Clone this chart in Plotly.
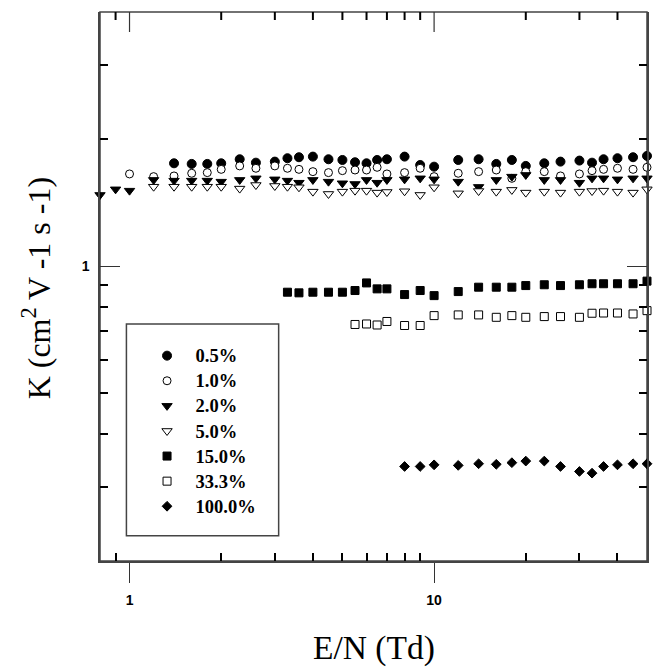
import math
import plotly.graph_objects as go

# E/N (Td) and mobility K (cm^2 V^-1 s^-1) for each mixture
en_05 = [1.4, 1.6, 1.8, 2.0, 2.3, 2.6, 3.0, 3.3, 3.6, 4.0, 4.5, 5.0, 5.5, 6.0, 6.5, 7.0,
         8, 9, 10, 12, 14, 16, 18, 20, 23, 26, 30, 33, 36, 40, 45, 50]
k_05 = [1.752, 1.746, 1.746, 1.752, 1.791, 1.758, 1.768, 1.801, 1.811, 1.817, 1.791, 1.784,
        1.762, 1.752, 1.784, 1.791, 1.817, 1.736, 1.720, 1.784, 1.791, 1.746, 1.784, 1.727,
        1.752, 1.768, 1.778, 1.758, 1.791, 1.801, 1.811, 1.824]

en_10 = [1.0, 1.2] + en_05
k_10 = [1.653, 1.629, 1.635, 1.659, 1.665, 1.695, 1.727, 1.705, 1.727, 1.705, 1.695, 1.674,
        1.665, 1.683, 1.689, 1.689, 1.714, 1.653, 1.665, 1.705, 1.629, 1.659, 1.674, 1.689,
        1.614, 1.674, 1.674, 1.635, 1.653, 1.683, 1.695, 1.705, 1.695, 1.714]

en_20 = [0.8, 0.9, 1.0, 1.2] + en_05
k_20 = [1.474, 1.520, 1.509, 1.600, 1.594, 1.594, 1.594, 1.585, 1.600, 1.614, 1.605, 1.594,
        1.576, 1.600, 1.585, 1.571, 1.565, 1.600, 1.576, 1.600, 1.605, 1.614, 1.605, 1.585,
        1.540, 1.600, 1.629, 1.644, 1.600, 1.600, 1.576, 1.614, 1.614, 1.605, 1.614, 1.614]

en_50 = [1.2] + en_05
k_50 = [1.542, 1.542, 1.542, 1.542, 1.542, 1.526, 1.556, 1.548, 1.542, 1.537, 1.501, 1.482,
        1.501, 1.509, 1.509, 1.493, 1.498, 1.504, 1.474, 1.537, 1.487, 1.506, 1.501, 1.515,
        1.493, 1.501, 1.493, 1.501, 1.506, 1.509, 1.501, 1.493, 1.520]

en_150 = [3.3, 3.6, 4.0, 4.5, 5.0, 5.5, 6.0, 6.5, 7.0, 8, 9, 10, 12, 14, 16, 18, 20, 23, 26,
          30, 33, 36, 40, 45, 50]
k_150 = [0.867, 0.864, 0.867, 0.867, 0.867, 0.875, 0.912, 0.883, 0.883, 0.856, 0.875, 0.851,
         0.870, 0.891, 0.891, 0.891, 0.899, 0.903, 0.899, 0.903, 0.908, 0.908, 0.908, 0.908,
         0.921]

en_333 = [5.5, 6.0, 6.5, 7.0, 8, 9, 10, 12, 14, 16, 18, 20, 23, 26, 30, 33, 36, 40, 45, 50]
k_333 = [0.727, 0.729, 0.725, 0.739, 0.723, 0.723, 0.763, 0.766, 0.766, 0.756, 0.763, 0.756,
         0.759, 0.759, 0.756, 0.773, 0.774, 0.774, 0.770, 0.784]

en_1000 = [8, 9, 10, 12, 14, 16, 18, 20, 23, 26, 30, 33, 36, 40, 45, 50]
k_1000 = [0.335, 0.335, 0.338, 0.337, 0.340, 0.339, 0.342, 0.345, 0.345, 0.335, 0.326, 0.323,
          0.335, 0.338, 0.340, 0.340]

labels = ["0.5%", "1.0%", "2.0%", "5.0%", "15.0%", "33.3%", "100.0%"]

x_range = [0.8, 50]
y_range = [0.2, 4.0]
x_major = [1, 10]
x_minor = [0.9, 2, 3, 4, 5, 6, 7, 8, 9, 20, 30, 40]
y_major = [1]
y_minor = [0.3, 0.4, 0.5, 0.6, 0.7, 0.8, 0.9, 2, 3]

series = [
    (en_05, k_05, "circle", 9, "black"),
    (en_10, k_10, "circle", 8, "white"),
    (en_20, k_20, "triangle-down", 9, "black"),
    (en_50, k_50, "triangle-down", 9, "white"),
    (en_150, k_150, "square", 8, "black"),
    (en_333, k_333, "square", 8, "white"),
    (en_1000, k_1000, "diamond", 7.5, "black"),
]

W, H = 656, 668
M = dict(l=100, r=7, t=12, b=107)
plot_h = H - M["t"] - M["b"]

lx = [math.log10(v) for v in x_range]
ly = [math.log10(v) for v in y_range]

axis_line = "#444444"
major_color = "#333333"

fig = go.Figure()

NBSP = "\u00a0"
for i, ((xs, ys, sym, size, fill), name) in enumerate(zip(series, labels)):
    fig.add_trace(go.Scatter(
        x=xs, y=ys, mode="markers",
        name=NBSP * 2 + f'<span style="font-size:18.5px">{name}</span>',
        legendgroup=f"g{i}",
        cliponaxis=False,
        marker=dict(symbol=sym, size=size, color=fill,
                    line=dict(color="black", width=1)),
    ))

# inward ticks hanging from the top edge, at the same E/N values as the bottom axis
for vals, length, width, color in ((x_major, 20, 1.2, major_color),
                                   (x_minor, 8, 2, "black")):
    y_end = 10 ** (ly[1] - length / plot_h * (ly[1] - ly[0]))
    tx, ty = [], []
    for v in vals:
        tx += [v, v, None]
        ty += [y_range[1], y_end, None]
    fig.add_trace(go.Scatter(x=tx, y=ty, mode="lines", showlegend=False,
                             hoverinfo="skip", line=dict(color=color, width=width)))

tick_font = dict(family="Liberation Sans", size=14, color="black", weight="bold")
minor_ticks = dict(tickmode="array", ticks="inside", ticklen=8, tickwidth=2,
                   tickcolor="black", showgrid=False)

fig.update_layout(
    width=W, height=H,
    margin=M,
    paper_bgcolor="white", plot_bgcolor="white",
    showlegend=True,
    legend=dict(
        x=0.086, y=0.406, xanchor="left", yanchor="top",
        bgcolor="rgba(0,0,0,0)", borderwidth=0,
        font=dict(family="Liberation Serif", size=17, color="black", weight="bold"),
        tracegroupgap=0.4, itemclick=False, traceorder="normal",
    ),
    xaxis=dict(
        type="log", range=lx, showgrid=False, zeroline=False,
        showline=True, linecolor=axis_line, linewidth=1.5,
        tickmode="array", tickvals=x_major, ticktext=[str(v) for v in x_major],
        ticks="outside", ticklen=20, tickwidth=1, tickcolor=major_color,
        tickfont=tick_font, ticklabelstandoff=5,
        minor=dict(tickvals=x_minor, **minor_ticks),
    ),
    yaxis=dict(
        type="log", range=ly, showgrid=False, zeroline=False,
        showline=True, linecolor=axis_line, linewidth=1.5, mirror="ticks",
        tickmode="array", tickvals=y_major, ticktext=[str(v) for v in y_major],
        ticks="inside", ticklen=20, tickwidth=1, tickcolor=major_color,
        tickfont=tick_font, ticklabelstandoff=6,
        minor=dict(tickvals=y_minor, **minor_ticks),
    ),
)

# plot frame
fig.add_shape(type="rect", xref="paper", yref="paper", x0=0, x1=1, y0=0, y1=1,
              layer="below", line=dict(color=axis_line, width=1.5))

# legend frame
fig.add_shape(type="rect", xref="paper", yref="paper",
              x0=0.0483, x1=0.3266, y0=0.0461, y1=0.4317,
              line=dict(color="#444444", width=1.5), fillcolor="rgba(0,0,0,0)")

fig.add_annotation(text="E/N (Td)", xref="paper", yref="paper",
                   x=0.5, y=-0.159, xanchor="center", yanchor="middle",
                   showarrow=False,
                   font=dict(family="Liberation Serif", size=33.5, color="black"))
fig.add_annotation(text="K (cm<sup>2</sup> V -1 s -1)", xref="paper", yref="paper",
                   x=-0.1166, y=0.497, xanchor="center", yanchor="middle",
                   textangle=-90, showarrow=False,
                   font=dict(family="Liberation Serif", size=32, color="black"))

fig.write_html("out.html")
